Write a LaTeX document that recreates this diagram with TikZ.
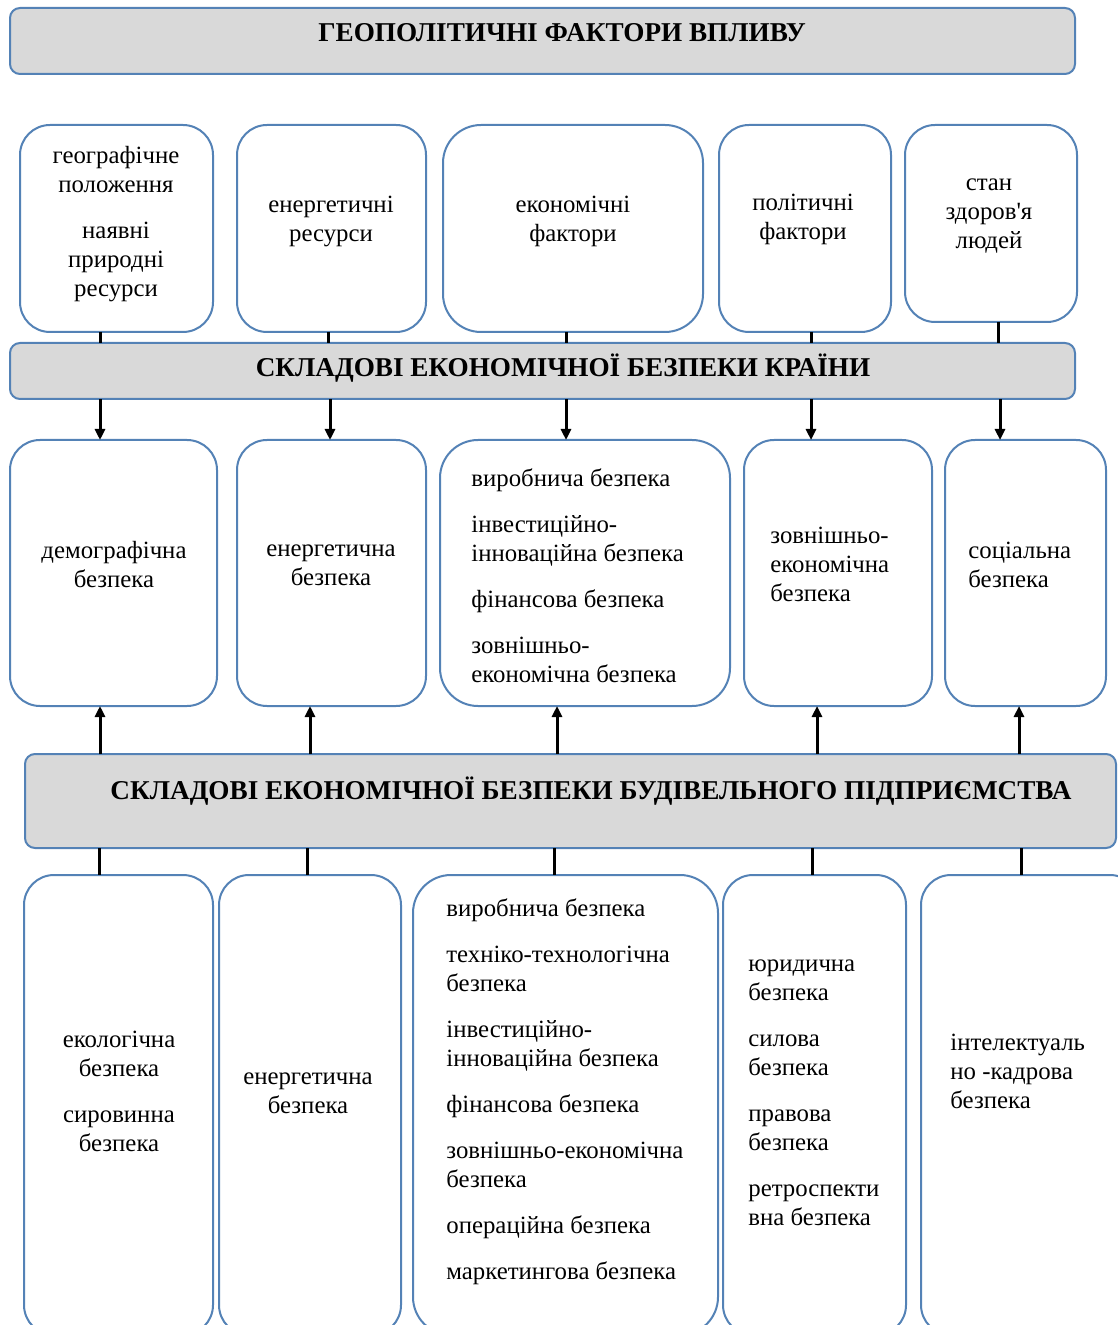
\documentclass[tikz,border=0pt]{standalone}
\usepackage{fontspec}
\setmainfont{Liberation Serif}[Ligatures=TeXOff]
\usetikzlibrary{arrows.meta,fit,calc}
\definecolor{bord}{RGB}{84,130,182}
\definecolor{hfill}{RGB}{217,217,217}
\begin{document}
\begin{tikzpicture}[x=0.5pt,y=-0.5pt,
 box/.style={draw=bord, line width=1pt, fill=white, rounded corners=15pt, inner sep=0pt, outer sep=0pt},
 bigbox/.style={box, rounded corners=19pt},
 head/.style={draw=bord, line width=1pt, fill=hfill, rounded corners=5pt, inner sep=0pt, outer sep=0pt},
 htxt/.style={font=\fontsize{13.6}{15}\selectfont\bfseries, inner sep=0pt},
 txt/.style={font=\fontsize{12.4}{14.5}\selectfont, align=center, inner sep=0pt},
 ltxt/.style={txt, align=left, anchor=west},
 conn/.style={line width=1.5pt},
 arr/.style={conn, -{Triangle[length=5.5pt,width=5pt]}},
]
\useasboundingbox (0,0) rectangle (1117,1325);

% headers
\node[head, fit={(10,8) (1075,74)}] (h1) {};
\node[htxt] (h1t) at (562,33) {ГЕОПОЛІТИЧНІ ФАКТОРИ ВПЛИВУ};
\node[head, fit={(10,343) (1075,399)}] (h2) {};
\node[htxt] (h2t) at (563,368) {СКЛАДОВІ ЕКОНОМІЧНОЇ БЕЗПЕКИ КРАЇНИ};
\node[head, fit={(25,754) (1116,848)}] (h3) {};
\node[htxt] (h3t) at (591,791) {СКЛАДОВІ ЕКОНОМІЧНОЇ БЕЗПЕКИ БУДІВЕЛЬНОГО ПІДПРИЄМСТВА};

% row 1
\node[box, fit={(20,125) (213,332)}] (g1) {};
\node[box, fit={(237,125) (426,332)}] (g2) {};
\node[bigbox, fit={(443,125) (703,332)}] (g3) {};
\node[box, fit={(719,125) (891,332)}] (g4) {};
\node[box, fit={(905,125) (1077,322)}] (g5) {};
\node[txt] (g1t) at (116,224) {географічне\\положення\\[8.5pt]наявні\\природні\\ресурси};
\node[txt] (g2t) at (331,221) {енергетичні\\ресурси};
\node[txt] (g3t) at (573,221) {економічні\\фактори};
\node[txt] (g4t) at (803,219) {політичні\\фактори};
\node[txt] (g5t) at (989,216) {стан\\здоров'я\\людей};

% row 2
\node[box, fit={(10,440) (217,706)}] (r1) {};
\node[box, fit={(237,440) (426,706)}] (r2) {};
\node[bigbox, fit={(440,440) (730,706)}] (r3) {};
\node[box, fit={(744,440) (932,706)}] (r4) {};
\node[box, fit={(945,440) (1106,706)}] (r5) {};
\node[txt] (r1t) at (114,565) {демографічна\\безпека};
\node[txt] (r2t) at (331,565) {енергетична\\безпека};
\node[ltxt] (r3t) at (471,576) {виробнича безпека\\[8.5pt]інвестиційно-\\інноваційна безпека\\[8.5pt]фінансова безпека\\[8.5pt]зовнішньо-\\економічна безпека};
\node[ltxt] (r4t) at (770,564) {зовнішньо-\\економічна\\безпека};
\node[ltxt] (r5t) at (968,565) {соціальна\\безпека};

% row 3
\node[box, fit={(24,875) (213,1335)}] (b1) {};
\node[box, fit={(219,875) (401,1335)}] (b2) {};
\node[bigbox, fit={(413,875) (718,1335)}] (b3) {};
\node[box, fit={(723,875) (906,1335)}] (b4) {};
\node[box, fit={(921,875) (1140,1335)}] (b5) {};
\node[txt] (b1t) at (119,1091) {екологічна\\безпека\\[8.5pt]сировинна\\безпека};
\node[txt] (b2t) at (308,1093) {енергетична\\безпека};
\node[ltxt] (b3t) at (446,1092) {виробнича безпека\\[8.5pt]техніко-технологічна\\безпека\\[8.5pt]інвестиційно-\\інноваційна безпека\\[8.5pt]фінансова безпека\\[8.5pt]зовнішньо-економічна\\безпека\\[8.5pt]операційна безпека\\[8.5pt]маркетингова безпека};
\node[ltxt] (b4t) at (748,1093) {юридична\\безпека\\[8.5pt]силова\\безпека\\[8.5pt]правова\\безпека\\[8.5pt]ретроспекти\\вна безпека};
\node[ltxt] (b5t) at (950,1071) {інтелектуаль\\но -кадрова\\безпека};

% connector x positions
\coordinate (a1) at (100,0); \coordinate (a2) at (328,0); \coordinate (a3) at (566,0); \coordinate (a4) at (811,0); \coordinate (a5) at (998,0);
\coordinate (e2) at (330,0); \coordinate (e5) at (1000,0);
\coordinate (c1) at (100,0); \coordinate (c2) at (310,0); \coordinate (c3) at (557,0); \coordinate (c4) at (817,0); \coordinate (c5) at (1019,0);
\coordinate (d1) at (99,0); \coordinate (d2) at (307,0); \coordinate (d3) at (554,0); \coordinate (d4) at (812,0); \coordinate (d5) at (1021,0);

% row1 -> header 2
\foreach \i in {1,...,5} {
  \draw[conn] (g\i.south -| a\i) -- (h2.north -| a\i);
}
% header 2 -> row 2
\draw[arr] (h2.south -| a1) -- (r1.north -| a1);
\draw[arr] (h2.south -| e2) -- (r2.north -| e2);
\draw[arr] (h2.south -| a3) -- (r3.north -| a3);
\draw[arr] (h2.south -| a4) -- (r4.north -| a4);
\draw[arr] (h2.south -| e5) -- (r5.north -| e5);
% header 3 -> row 2 (up)
\foreach \i in {1,...,5} {
  \draw[arr] (h3.north -| c\i) -- (r\i.south -| c\i);
}
% header 3 -> row 3
\foreach \i in {1,...,5} {
  \draw[conn] (h3.south -| d\i) -- (b\i.north -| d\i);
}
\end{tikzpicture}
\end{document}
